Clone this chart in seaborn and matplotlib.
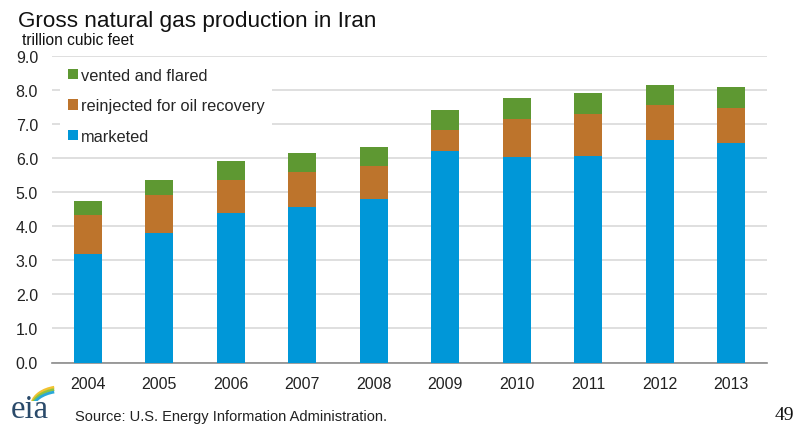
import numpy as np
import pandas as pd
import matplotlib
matplotlib.use("Agg")
import matplotlib.pyplot as plt
from matplotlib.patches import Patch, Arc
import seaborn as sns

years = ["2004", "2005", "2006", "2007", "2008", "2009", "2010", "2011", "2012", "2013"]
marketed = [3.19, 3.80, 4.40, 4.58, 4.79, 6.20, 6.03, 6.06, 6.52, 6.45]
reinjected = [1.13, 1.13, 0.95, 1.02, 0.98, 0.64, 1.13, 1.24, 1.03, 1.03]
vented = [0.43, 0.42, 0.57, 0.54, 0.57, 0.57, 0.61, 0.61, 0.61, 0.60]
series_names = ["marketed", "reinjected for oil recovery", "vented and flared"]
colors = ["#0097d8", "#bd742c", "#5e9832"]
yticks = [0.0, 1.0, 2.0, 3.0, 4.0, 5.0, 6.0, 7.0, 8.0, 9.0]

sns.set_theme(style="white")
plt.rcParams["font.family"] = ["Liberation Sans", "DejaVu Sans"]

df = pd.DataFrame({"year": years, "marketed": marketed,
                   "reinjected": reinjected, "vented": vented})
df["c1"] = df["marketed"]
df["c2"] = df["marketed"] + df["reinjected"]
df["c3"] = df["c2"] + df["vented"]

fig = plt.figure(figsize=(7.97, 4.27), dpi=100)
ax = fig.add_axes([52 / 797, 1 - 363.5 / 427, 715 / 797, (363.5 - 57) / 427])

for col, c in zip(["c3", "c2", "c1"], [colors[2], colors[1], colors[0]]):
    sns.barplot(data=df, x="year", y=col, color=c, width=0.39, ax=ax,
                saturation=1, linewidth=0, zorder=3)

ax.set_xlim(-0.5, 9.5)
ax.set_ylim(0, 9)
ax.set_yticks(yticks)
ax.set_yticklabels([f"{v:.1f}" for v in yticks])
ax.set_xlabel("")
ax.set_ylabel("")
ax.grid(axis="y", color="#dcdcdc", linewidth=1.3, zorder=0)
ax.set_axisbelow(True)
for s in ["top", "right", "left"]:
    ax.spines[s].set_visible(False)
ax.spines["bottom"].set_color("#8c8c8c")
ax.spines["bottom"].set_linewidth(1.2)
ax.tick_params(axis="y", length=0, labelsize=11.5, colors="#222222", pad=10)
ax.tick_params(axis="x", which="major", length=0, labelsize=11.5, colors="#222222", pad=10)
ax.set_xticks(np.arange(-0.5, 10, 1), minor=True)
ax.tick_params(axis="x", which="minor", length=5, color="#8c8c8c", width=1.2)

handles = [Patch(facecolor=colors[i], edgecolor="none") for i in [2, 1, 0]]
labels = [series_names[i] for i in [2, 1, 0]]
leg = ax.legend(handles, labels, loc="upper left", bbox_to_anchor=(0.0, 1.015),
                frameon=True, fontsize=11.75, handlelength=0.6, handleheight=0.6,
                handletextpad=0.15, labelspacing=0.95, borderpad=0.5)
leg.get_frame().set_facecolor("white")
leg.get_frame().set_edgecolor("none")
leg.get_frame().set_alpha(1)
leg.set_zorder(5)

fig.text(18 / 797, 1 - 26.5 / 427, "Gross natural gas production in Iran",
         fontsize=16.2, color="#111111", va="baseline")
fig.text(22 / 797, 1 - 45 / 427, "trillion cubic feet",
         fontsize=11.2, color="#111111", va="baseline")
fig.text(75 / 797, 1 - 421 / 427, "Source: U.S. Energy Information Administration.",
         fontsize=10.5, color="#222222", va="baseline")
fig.text(775 / 797, 1 - 420 / 427, "49", fontsize=14,
         family=["Liberation Serif", "DejaVu Serif"], color="#111111", va="baseline")

# eia logo
fig.text(11 / 797, 1 - 418 / 427, "eia", fontsize=23.5,
         family=["Liberation Serif", "DejaVu Serif"], color="#2a4a6a", va="baseline")
lax = fig.add_axes([24 / 797, 1 - 402 / 427, 38 / 797, 16 / 427])
lax.set_xlim(0, 1)
lax.set_ylim(0, 1)
lax.axis("off")
for i, c in enumerate(["#f2c230", "#8fc23e", "#2aa8d8"]):
    lax.add_patch(Arc((1.0, -0.3 - 0.15 * i), 1.6, 2.4, theta1=100, theta2=165,
                      color=c, linewidth=2))

fig.savefig("out.png", dpi=100)
